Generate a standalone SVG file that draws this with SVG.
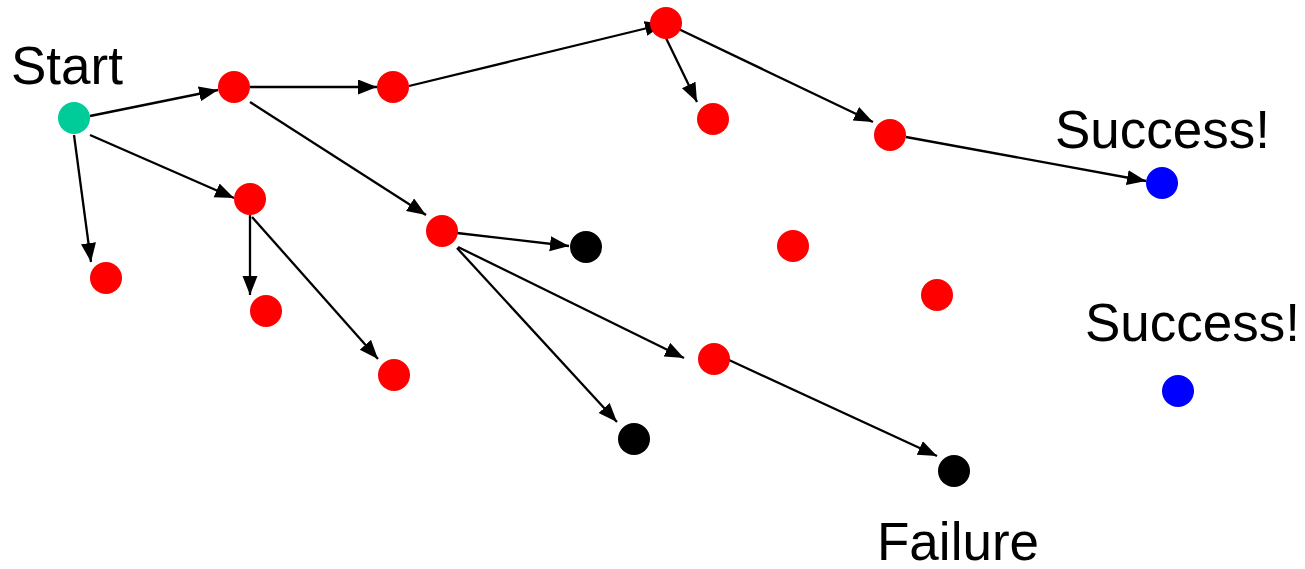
<svg xmlns="http://www.w3.org/2000/svg" width="1305" height="569" viewBox="0 0 1305 569">
<style>
.red{fill:#FF0000}.blue{fill:#0000FF}.blk{fill:#000}.grn{fill:#00CC99}
.lbl{font-family:"Liberation Sans",Arial,sans-serif;font-size:53px;fill:#000}
.e{stroke:#000;stroke-width:2.3;fill:none;marker-end:url(#ah)}
</style>
<defs>
<marker id="ah" markerUnits="userSpaceOnUse" markerWidth="20" markerHeight="16" refX="19" refY="7.5" orient="auto">
<path d="M0,0 L19,7.5 L0,15 z" fill="#000"/>
</marker>
</defs>
<rect width="1305" height="569" fill="#fff"/>
<g id="connectors">
<line class="e" x1="90" y1="116" x2="218" y2="90"/>
<line class="e" x1="90" y1="135" x2="234" y2="198"/>
<line class="e" x1="74" y1="135" x2="91" y2="262"/>
<line class="e" x1="250" y1="87" x2="377" y2="87"/>
<line class="e" x1="250" y1="102" x2="426" y2="215"/>
<line class="e" x1="409" y1="86" x2="664" y2="24"/>
<line class="e" x1="665" y1="36" x2="697" y2="102"/>
<line class="e" x1="666" y1="23" x2="873" y2="122"/>
<line class="e" x1="906" y1="137" x2="1146" y2="181"/>
<line class="e" x1="250" y1="215" x2="250" y2="295"/>
<line class="e" x1="252" y1="217" x2="378" y2="359"/>
<line class="e" x1="457" y1="233" x2="569" y2="246"/>
<line class="e" x1="458" y1="247" x2="684" y2="358"/>
<line class="e" x1="457" y1="248" x2="617" y2="422"/>
<line class="e" x1="729" y1="360" x2="937" y2="456"/>
</g>
<g id="start"><circle class="grn" cx="74" cy="118" r="16"/><text class="lbl" x="11" y="84">Start</text></g>
<g id="n1"><circle class="red" cx="234" cy="87" r="16"/></g>
<g id="n2"><circle class="red" cx="393" cy="87" r="16"/></g>
<g id="n3"><circle class="red" cx="666" cy="23" r="16"/></g>
<g id="n4"><circle class="red" cx="713" cy="119" r="16"/></g>
<g id="n5"><circle class="red" cx="890" cy="135" r="16"/></g>
<g id="success1"><circle class="blue" cx="1162" cy="183" r="16"/><text class="lbl" x="1055" y="148">Success!</text></g>
<g id="n6"><circle class="red" cx="250" cy="199" r="16"/></g>
<g id="n7"><circle class="red" cx="106" cy="278" r="16"/></g>
<g id="n8"><circle class="red" cx="266" cy="311" r="16"/></g>
<g id="n9"><circle class="red" cx="394" cy="375" r="16"/></g>
<g id="n10"><circle class="red" cx="442" cy="231" r="16"/></g>
<g id="b1"><circle class="blk" cx="586" cy="247" r="16"/></g>
<g id="n11"><circle class="red" cx="793" cy="246" r="16"/></g>
<g id="n12"><circle class="red" cx="937" cy="295" r="16"/></g>
<g id="success2"><circle class="blue" cx="1178" cy="391" r="16"/><text class="lbl" x="1085" y="341">Success!</text></g>
<g id="n13"><circle class="red" cx="714" cy="359" r="16"/></g>
<g id="b2"><circle class="blk" cx="634" cy="439" r="16"/></g>
<g id="failure"><circle class="blk" cx="954" cy="471" r="16"/><text class="lbl" x="877" y="560">Failure</text></g>
</svg>
